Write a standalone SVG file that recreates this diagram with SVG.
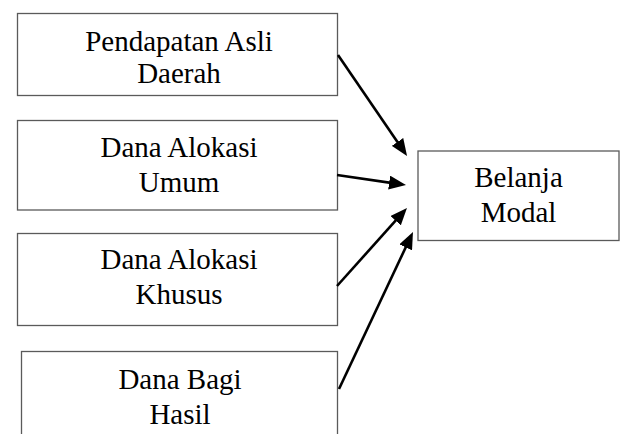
<svg xmlns="http://www.w3.org/2000/svg" width="620" height="434" viewBox="0 0 620 434">
  <style>
    .box { fill: #ffffff; stroke: #5a5a5a; stroke-width: 1.3; }
    .label { font-family: 'Liberation Serif', 'Times New Roman', 'DejaVu Serif', serif; font-size: 29px; fill: #000000; text-anchor: middle; }
    .arrow { stroke: #000000; stroke-width: 2.6; fill: none; marker-end: url(#head); }
  </style>
  <defs>
    <marker id="head" markerUnits="userSpaceOnUse" markerWidth="17" markerHeight="14" refX="7" refY="7" orient="auto">
      <path d="M0,0 L17,7 L0,14 Z" fill="#000000"/>
    </marker>
  </defs>
  <rect width="620" height="434" fill="#ffffff"/>

  <g id="pad">
    <rect class="box" x="17.5" y="13.5" width="320" height="82"/>
    <text class="label" font-family="Liberation Serif, serif" x="179" y="50.5">Pendapatan Asli</text>
    <text class="label" font-family="Liberation Serif, serif" x="179" y="82.5">Daerah</text>
  </g>

  <g id="dau">
    <rect class="box" x="17.5" y="120.5" width="320" height="89.5"/>
    <text class="label" font-family="Liberation Serif, serif" x="179" y="157">Dana Alokasi</text>
    <text class="label" font-family="Liberation Serif, serif" x="179" y="192">Umum</text>
  </g>

  <g id="dak">
    <rect class="box" x="17.5" y="233.5" width="320" height="92"/>
    <text class="label" font-family="Liberation Serif, serif" x="179" y="269">Dana Alokasi</text>
    <text class="label" font-family="Liberation Serif, serif" x="179" y="304">Khusus</text>
  </g>

  <g id="dbh">
    <rect class="box" x="21.5" y="351.5" width="316" height="100"/>
    <text class="label" font-family="Liberation Serif, serif" x="180" y="389">Dana Bagi</text>
    <text class="label" font-family="Liberation Serif, serif" x="180" y="424">Hasil</text>
  </g>

  <g id="belanja-modal">
    <rect class="box" x="418" y="151" width="201" height="89.5"/>
    <text class="label" font-family="Liberation Serif, serif" x="518.5" y="187">Belanja</text>
    <text class="label" font-family="Liberation Serif, serif" x="518.5" y="222">Modal</text>
  </g>

  <g id="connectors">
    <line class="arrow" x1="338" y1="55" x2="401.4" y2="147.7"/>
    <line class="arrow" x1="337" y1="175" x2="396.1" y2="183.6"/>
    <line class="arrow" x1="337" y1="286" x2="400.3" y2="215.4"/>
    <line class="arrow" x1="339" y1="389" x2="408.7" y2="241"/>
  </g>
</svg>
